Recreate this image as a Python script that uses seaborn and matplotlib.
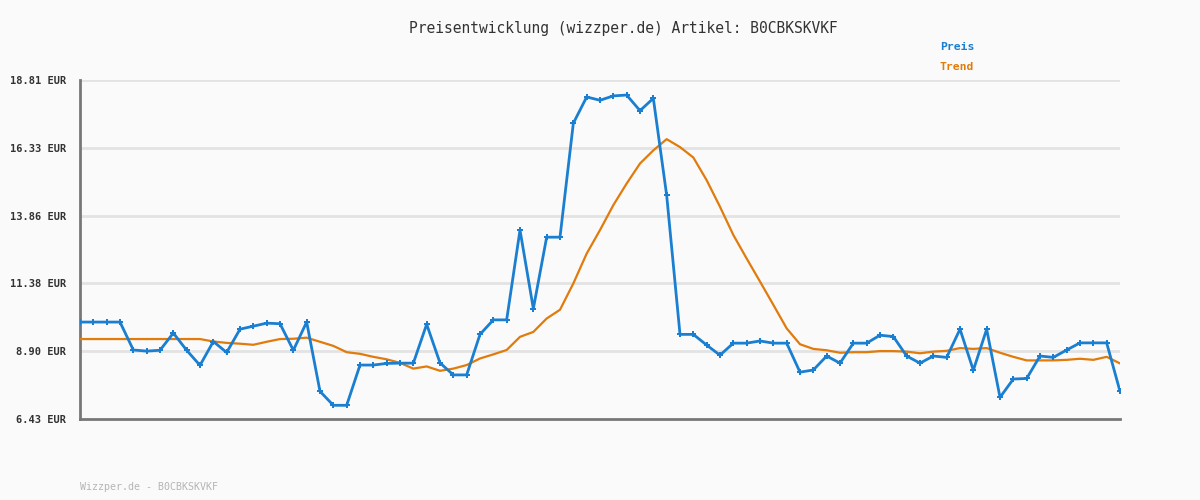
import numpy as np
import pandas as pd
import matplotlib
matplotlib.use('Agg')
import matplotlib.pyplot as plt
import seaborn as sns

# Preis und Trend (EUR)
preis = [9.97, 9.97, 9.97, 9.97, 8.95, 8.91, 8.94, 9.57, 8.94, 8.39,
         9.26, 8.86, 9.71, 9.82, 9.93, 9.91, 8.94, 9.97, 7.44, 6.93,
         6.93, 8.40, 8.40, 8.46, 8.47, 8.47, 9.89, 8.48, 8.04, 8.04,
         9.52, 10.05, 10.05, 13.33, 10.46, 13.07, 13.07, 17.23, 18.19, 18.07,
         18.23, 18.26, 17.69, 18.14, 14.60, 9.52, 9.52, 9.13, 8.76, 9.20,
         9.20, 9.28, 9.20, 9.20, 8.14, 8.22, 8.73, 8.47, 9.20, 9.20,
         9.49, 9.44, 8.73, 8.47, 8.73, 8.68, 9.71, 8.21, 9.71, 7.22,
         7.89, 7.91, 8.73, 8.68, 8.95, 9.21, 9.21, 9.21, 7.44]
trend = [9.35, 9.35, 9.35, 9.35, 9.35, 9.35, 9.35, 9.35, 9.35, 9.35,
         9.26, 9.21, 9.18, 9.14, 9.25, 9.35, 9.36, 9.40, 9.25, 9.10,
         8.87, 8.81, 8.70, 8.61, 8.48, 8.27, 8.35, 8.19, 8.27, 8.40,
         8.64, 8.79, 8.95, 9.43, 9.61, 10.10, 10.42, 11.38, 12.47, 13.33,
         14.24, 15.03, 15.76, 16.24, 16.65, 16.36, 15.98, 15.15, 14.18, 13.15,
         12.29, 11.45, 10.60, 9.74, 9.16, 8.99, 8.94, 8.85, 8.87, 8.87,
         8.91, 8.91, 8.89, 8.83, 8.89, 8.92, 9.02, 8.99, 9.02, 8.85,
         8.70, 8.57, 8.57, 8.57, 8.59, 8.63, 8.59, 8.70, 8.46]
y_ticks = [6.43, 8.90, 11.38, 13.86, 16.33, 18.81]
y_labels = ['6.43 EUR', '8.90 EUR', '11.38 EUR', '13.86 EUR', '16.33 EUR', '18.81 EUR']
artikel = 'B0CBKSKVKF'

df = pd.DataFrame({'idx': range(len(preis)), 'Preis': preis, 'Trend': trend})

blue = '#1a7fd0'
orange = '#e07b0c'

sns.set_style('white')
plt.rcParams['font.family'] = ['DejaVu Sans Mono']

fig = plt.figure(figsize=(12, 5), dpi=100, facecolor='#fafafa')
ax = fig.add_axes([80 / 1200, 1 - 419 / 500, 1040 / 1200, 339 / 500])
ax.set_facecolor('#fafafa')

sns.lineplot(data=df, x='idx', y='Trend', ax=ax, color=orange, linewidth=1.6, zorder=3)
sns.lineplot(data=df, x='idx', y='Preis', ax=ax, color=blue, linewidth=2,
             marker='P', markersize=4.5, markeredgewidth=0, zorder=4)

ax.set_xlim(0, len(preis) - 1)
ax.set_ylim(y_ticks[0], y_ticks[-1])
ax.set_yticks(y_ticks)
ax.set_yticklabels(y_labels, fontsize=7.5, fontweight='bold', color='#333333')
ax.set_xticks([])
ax.set_xlabel('')
ax.set_ylabel('')
ax.tick_params(axis='y', length=0, pad=10)
for t in y_ticks[1:]:
    ax.axhline(t, color='#e3e3e3', linewidth=2, zorder=1)

for s in ['top', 'right']:
    ax.spines[s].set_visible(False)
for s in ['left', 'bottom']:
    ax.spines[s].set_color('#777777')
    ax.spines[s].set_linewidth(2)

fig.text(623 / 1200, 1 - 28 / 500, 'Preisentwicklung (wizzper.de) Artikel: ' + artikel,
         ha='center', va='center', fontsize=10.5, color='#333333')
fig.text(940 / 1200, 1 - 47 / 500, 'Preis', ha='left', va='center',
         fontsize=8.2, fontweight='bold', color=blue)
fig.text(940 / 1200, 1 - 67 / 500, 'Trend', ha='left', va='center',
         fontsize=8.2, fontweight='bold', color=orange)
fig.text(80 / 1200, 1 - 487 / 500, 'Wizzper.de - ' + artikel, ha='left', va='center',
         fontsize=7.2, color='#b5b5b5')

fig.savefig('out.png', dpi=100, facecolor='#fafafa')
